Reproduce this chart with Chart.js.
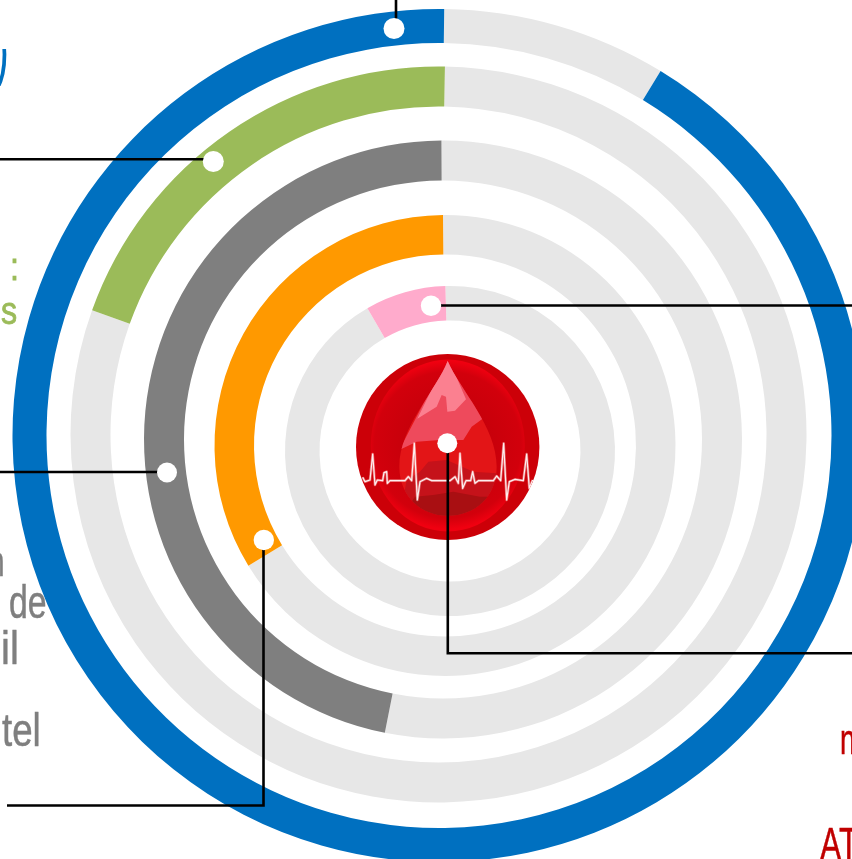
<!DOCTYPE html>
<html><head><meta charset="utf-8">
<script src="https://cdn.jsdelivr.net/npm/chart.js@4"></script>
<style>
html,body{margin:0;padding:0;background:#fff;width:852px;height:859px;overflow:hidden}
#stage{position:relative;width:852px;height:859px;overflow:hidden}
canvas{position:absolute;left:0;top:0}
.t{position:absolute;font-family:"Liberation Sans Narrow","Liberation Sans",sans-serif;line-height:1;white-space:nowrap;transform-origin:0 0}
</style></head><body>
<div id="stage"></div>
<script>
// Share of each ring, in percent: [remainder, coloured part]
const ringNames  = ['blue','green','darkGrey','orange','pink'];
const blueValues     = [8.5, 91.5];
const greenValues    = [80.2, 19.8];
const darkGreyValues = [53.2, 46.8];
const orangeValues   = [66.4, 33.6];
const pinkValues     = [92.1, 7.9];
const segmentLabels  = ['reste', 'part'];

const W = 852, H = 859;
const stage = document.getElementById('stage');
const REST = '#e7e7e7';
const rings = [
  {values: blueValues,     color:'#0070c0', cx:439,   cy:435.5, R:426.5, r:392.5, rot:0.7},
  {values: greenValues,    color:'#9bbb59', cx:438.5, cy:434.5, R:368,   r:328,   rot:1.0},
  {values: darkGreyValues, color:'#7f7f7f', cx:443,   cy:439.5, R:299,   r:259,   rot:-0.3},
  {values: orangeValues,   color:'#ff9900', cx:445,   cy:445.5, R:230.5, r:191,   rot:-0.5},
  {values: pinkValues,     color:'#ffabcc', cx:450,   cy:451,   R:165,   r:130.5, rot:-1.6}
];

// Leader lines and the white end dots, drawn above every ring
const overlayPlugin = {
  id:'overlay',
  afterDraw(chart){
    const c = chart.ctx;
    drawIcon(c);
    c.save();
    c.strokeStyle='#000'; c.lineWidth=2.6; c.lineJoin='miter';
    [[[396,0],[396,28]],
     [[0,159.3],[213,159.3]],
     [[0,472],[167,472]],
     [[7,805.5],[263.5,805.5],[263.5,540]],
     [[431,305.5],[852,305.5]],
     [[447.8,443],[447.8,653.3],[852,653.3]]
    ].forEach(l=>{c.beginPath();l.forEach((p,i)=>i?c.lineTo(p[0],p[1]):c.moveTo(p[0],p[1]));c.stroke();});
    c.fillStyle='#fff';
    [[394,28.5,10.5],[213.3,161.5,10.5],[167,472.5,10],[263.8,540,10.2],[431,305.8,10.2],[447.3,443.3,10]].forEach(d=>{
      c.beginPath();c.arc(d[0],d[1],d[2],0,Math.PI*2);c.fill();
    });
    c.restore();
  }
};

function drawIcon(c){
  const X=v=>340+v/3, Y=v=>340+v/3;
  const poly=(pts)=>{c.beginPath();pts.forEach((p,i)=>i?c.lineTo(X(p[0]),Y(p[1])):c.moveTo(X(p[0]),Y(p[1])));};
  c.save();
  c.beginPath();c.ellipse(447.7,447,91.7,93,0,0,Math.PI*2);c.fillStyle='#cc0008';c.fill();c.clip();
  // inner glossy lens
  let g=c.createRadialGradient(447.8,445,30,447.8,445,84);
  g.addColorStop(0,'#c4000a');g.addColorStop(0.8,'#d2000c');g.addColorStop(1,'#f00010');
  c.save();c.translate(447.8,445.5);c.scale(77/86,1);c.beginPath();c.arc(0,0,86,0,Math.PI*2);c.restore();
  c.fillStyle=g;c.fill();
  // drop
  const drop=()=>{c.beginPath();c.moveTo(X(323),Y(63));
    c.bezierCurveTo(X(290),Y(150),X(178),Y(260),X(178),Y(380));
    c.bezierCurveTo(X(178),Y(470),X(245),Y(527),X(323),Y(527));
    c.bezierCurveTo(X(405),Y(527),X(470),Y(470),X(470),Y(380));
    c.bezierCurveTo(X(470),Y(260),X(360),Y(150),X(323),Y(63));c.closePath();};
  c.save();drop();c.fillStyle='#e31517';c.fill();c.clip();
  poly([[323,50],[178,330],[230,305],[300,300],[370,300],[395,260],[430,235],[380,150]]);c.closePath();c.fillStyle='#ee4a5c';c.fill();
  poly([[323,50],[232,236],[290,200],[305,165],[318,170],[322,215],[345,212],[378,178]]);c.closePath();c.fillStyle='#fb8090';c.fill();
  poly([[200,420],[240,395],[265,365],[320,360],[400,395],[470,400],[470,540],[178,540]]);c.closePath();c.fillStyle='#c5121a';c.fill();
  poly([[225,470],[280,465],[340,455],[420,470],[470,470],[470,540],[178,540]]);c.closePath();c.fillStyle='#a90f12';c.fill();
  c.restore();
  // trace
  const ecg=[[68,412],[75,425],[90,420],[98,342],[105,435],[112,420],[128,422],[132,398],[140,395],[142,430],[150,422],[195,422],[205,410],[215,422],[223,310],[232,480],[240,425],[260,415],[275,422],[330,422],[345,410],[355,430],[360,340],[368,445],[378,422],[392,422],[398,395],[405,430],[415,422],[460,422],[470,408],[482,422],[491,310],[500,480],[508,425],[525,418],[550,422],[560,342],[568,445],[578,420]];
  c.lineJoin='round';
  poly(ecg);c.strokeStyle='rgba(255,190,190,.5)';c.lineWidth=2.6;c.stroke();
  poly(ecg);c.strokeStyle='rgba(255,255,255,.9)';c.lineWidth=1.2;c.stroke();
  c.restore();
}

rings.forEach((ring,i)=>{
  const cv=document.createElement('canvas');cv.width=W;cv.height=H;cv.style.width=W+'px';cv.style.height=H+'px';
  stage.appendChild(cv);
  new Chart(cv,{
    type:'doughnut',
    data:{labels:segmentLabels,datasets:[{label:ringNames[i],data:ring.values,backgroundColor:[REST,ring.color],borderWidth:0,clip:false}]},
    options:{
      responsive:false,animation:false,events:[],
      devicePixelRatio:1,
      rotation:ring.rot,
      radius:ring.R,
      cutout:(ring.r/ring.R*100)+'%',
      layout:{padding:{
        left:Math.max(0,2*(ring.cx-W/2)),right:Math.max(0,2*(W/2-ring.cx)),
        top:Math.max(0,2*(ring.cy-H/2)),bottom:Math.max(0,2*(H/2-ring.cy))}},
      plugins:{legend:{display:false},tooltip:{enabled:false},title:{display:false}}
    },
    plugins:i===rings.length-1?[overlayPlugin]:[]
  });
});

// Text fragments left visible by the crop
const fragments=[
  {s:')',  c:'#0070c0', x:-5, y:10, f:76, k:.55, clip:'inset(39px 0 0 0)'},
  {s:':',  c:'#9bbb59', x:10, y:248,f:38, k:.85,e:.8},
  {s:'s',  c:'#9bbb59', x:1,  y:292,f:38, k:.85,e:.8},
  {s:'n',  c:'#7f7f7f', x:-11,y:541,f:42, k:.66,e:.5},
  {s:'de', c:'#7f7f7f', x:9,  y:578,f:47, k:.72,e:.5},
  {s:'il', c:'#7f7f7f', x:1,  y:624,f:47, k:.85,e:.5},
  {s:'tel',c:'#7f7f7f', x:2,  y:706,f:47, k:.78,e:.5},
  {s:'n',  c:'#c00000', x:840,y:719,f:42, k:.66,e:.5},
  {s:'AT', c:'#c00000', x:820,y:820,f:47, k:.68,e:.5}
];
fragments.forEach(t=>{
  const d=document.createElement('div');d.className='t';d.textContent=t.s;
  d.style.cssText+=`left:${t.x}px;top:${t.y}px;font-size:${t.f}px;color:${t.c};transform:scaleX(${t.k});${t.e?'-webkit-text-stroke:'+t.e+'px '+t.c+';':''}${t.clip?'clip-path:'+t.clip:''}`;
  stage.appendChild(d);
});
</script>
</body></html>
